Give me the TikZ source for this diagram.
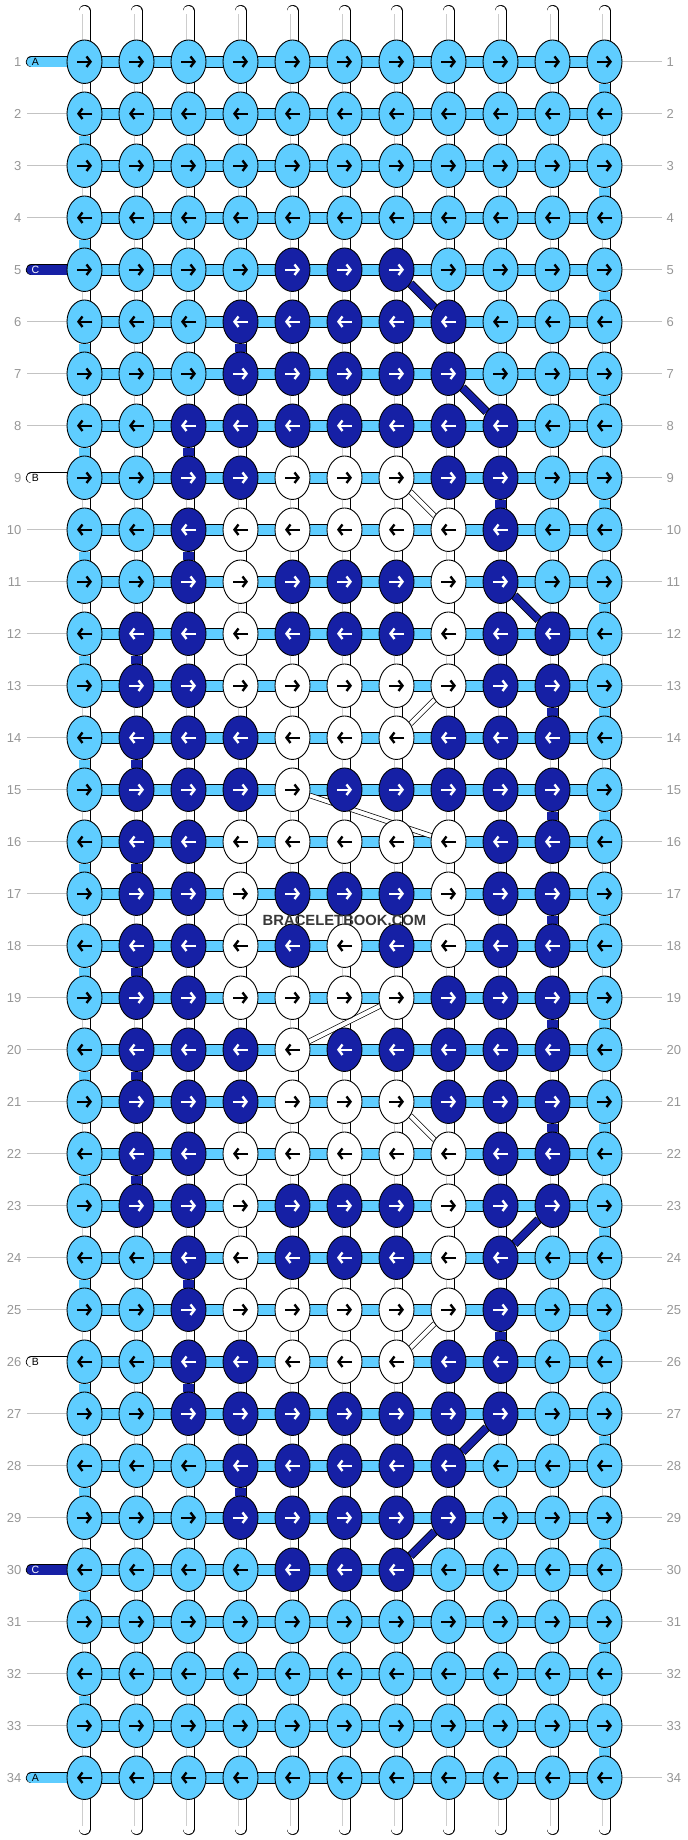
\documentclass[tikz,border=0pt]{standalone}
\usepackage{fontspec}
\setmainfont{Liberation Sans}
\usetikzlibrary{shapes.geometric,arrows.meta}
\definecolor{lblue}{RGB}{95,205,255}
\definecolor{dblue}{RGB}{22,32,165}
\definecolor{numgray}{RGB}{150,150,150}
\definecolor{linegray}{RGB}{195,195,195}
\definecolor{stripegray}{RGB}{205,205,205}
\pgfdeclarelayer{back}
\pgfsetlayers{back,main}

\begin{document}
\begin{tikzpicture}[x=1pt, y=-1pt,
	knot/.style={draw, ellipse, line width=0.9, minimum width=35, minimum height=43.5, inner sep=0pt},
	knotL/.style={knot, fill=lblue}, knotD/.style={knot, fill=dblue}, knotW/.style={knot, fill=white},
	arr/.style={line width=2.4, -{Straight Barb[length=4pt,width=10.5pt]}},
	arrL/.style={arr, black}, arrD/.style={arr, white}, arrW/.style={arr, black},
	thread/.style={line width=0.8, double distance=10.4},
	stringline/.style={thread, double=white, line cap=round},
	stripe/.style={draw=stripegray, line width=0.6, double=white, double distance=4, shorten <=3, shorten >=3},
	vfillL/.style={thread, double=lblue}, vfillD/.style={thread, double=dblue}, vfillW/.style={thread, double=white},
	hbar/.style={line width=0.8, double=lblue, double distance=10.2},
	diagD/.style={line width=0.8, double=dblue, double distance=7},
	diagW/.style={line width=0.7, double=white, double distance=4},
	pill/.style={line width=0.8, double distance=9.8, line cap=round},
	pilltext/.style={font=\fontsize{10.5}{12}\selectfont, inner sep=0pt},
	rownum/.style={text=numgray, font=\fontsize{13}{15}\selectfont, inner sep=0pt},
	guide/.style={draw=linegray, line width=1}]
\useasboundingbox (0,0) rectangle (688,1840);
% knots, row by row
\foreach \r/\row in {
	1/{L,L,L,L,L,L,L,L,L,L,L}, 2/{L,L,L,L,L,L,L,L,L,L,L}, 3/{L,L,L,L,L,L,L,L,L,L,L}, 4/{L,L,L,L,L,L,L,L,L,L,L},
	5/{L,L,L,L,D,D,D,L,L,L,L}, 6/{L,L,L,D,D,D,D,D,L,L,L}, 7/{L,L,L,D,D,D,D,D,L,L,L}, 8/{L,L,D,D,D,D,D,D,D,L,L},
	9/{L,L,D,D,W,W,W,D,D,L,L}, 10/{L,L,D,W,W,W,W,W,D,L,L}, 11/{L,L,D,W,D,D,D,W,D,L,L}, 12/{L,D,D,W,D,D,D,W,D,D,L},
	13/{L,D,D,W,W,W,W,W,D,D,L}, 14/{L,D,D,D,W,W,W,D,D,D,L}, 15/{L,D,D,D,W,D,D,D,D,D,L}, 16/{L,D,D,W,W,W,W,W,D,D,L},
	17/{L,D,D,W,D,D,D,W,D,D,L}, 18/{L,D,D,W,D,W,D,W,D,D,L}, 19/{L,D,D,W,W,W,W,D,D,D,L}, 20/{L,D,D,D,W,D,D,D,D,D,L},
	21/{L,D,D,D,W,W,W,D,D,D,L}, 22/{L,D,D,W,W,W,W,W,D,D,L}, 23/{L,D,D,W,D,D,D,W,D,D,L}, 24/{L,L,D,W,D,D,D,W,D,L,L},
	25/{L,L,D,W,W,W,W,W,D,L,L}, 26/{L,L,D,D,W,W,W,D,D,L,L}, 27/{L,L,D,D,D,D,D,D,D,L,L}, 28/{L,L,L,D,D,D,D,D,L,L,L},
	29/{L,L,L,D,D,D,D,D,L,L,L}, 30/{L,L,L,L,D,D,D,L,L,L,L}, 31/{L,L,L,L,L,L,L,L,L,L,L}, 32/{L,L,L,L,L,L,L,L,L,L,L},
	33/{L,L,L,L,L,L,L,L,L,L,L}, 34/{L,L,L,L,L,L,L,L,L,L,L}}{
	\ifodd\r\relax \def\dir{1}\else \def\dir{-1}\fi
	\foreach \k [count=\c] in \row {
		\node [knot\k] (k\r-\c) at ({84.5+52*(\c-1)},{61.7+52*(\r-1)}){};
		\draw [arr\k] (k\r-\c.center) ++({-7.5*(\dir)},0) -- ++({15*(\dir)},0);
	}
	\node [rownum, anchor=east] (ln\r) at (21.5,{61.7+52*(\r-1)}) {\r};
	\node [rownum, anchor=west] (rn\r) at (666.5,{61.7+52*(\r-1)}) {\r};
}
\node [font=\bfseries\fontsize{14.8}{16}\selectfont, text=black!78, inner sep=0pt] (mark) at (344.5,920) {BRACELETBOOK.COM};
% thread labels
\node [pilltext] (tA1) at (35.5,61.7) {A};
\node [pilltext, text=white] (tC5) at (35.5,269.7) {C};
\node [pilltext] (tB9) at (35.5,477.7) {B};
\node [pilltext] (tB26) at (35.5,1361.7) {B};
\node [pilltext, text=white] (tC30) at (35.5,1569.7) {C};
\node [pilltext] (tA34) at (35.5,1777.7) {A};
\begin{pgfonlayer}{back}
% vertical strings
\foreach \c in {1,...,11}{
	\coordinate (top\c) at ({84.5+52*(\c-1)},11);
	\coordinate (bot\c) at ({84.5+52*(\c-1)},1829);
	\draw [stringline] (top\c) -- (bot\c);
	\draw [stripe] (top\c) -- (bot\c);
}
% thread turning at the edges
\foreach \r in {1,3,...,33}{
	\pgfmathtruncatemacro\s{\r+1}
	\draw [vfillL] (k\r-11) -- (k\s-11);
}
\foreach \r in {2,4,...,32}{
	\pgfmathtruncatemacro\s{\r+1}
	\draw [vfillL] (k\r-1) -- (k\s-1);
}
\foreach \to/\from in {k6-4/k7-4, k8-3/k9-3, k9-9/k10-9, k10-3/k11-3, k12-2/k13-2, k13-10/k14-10, k14-2/k15-2,
	k15-10/k16-10, k16-2/k17-2, k17-10/k18-10, k18-2/k19-2, k19-10/k20-10, k20-2/k21-2, k21-10/k22-10,
	k22-2/k23-2, k24-3/k25-3, k25-9/k26-9, k26-3/k27-3, k28-4/k29-4}
\draw [vfillD] (\to)--(\from);
\foreach \to/\from in {k10-4/k11-4, k11-8/k12-8, k12-4/k13-4, k14-5/k15-5, k16-4/k17-4, k17-8/k18-8,
	k18-4/k19-4, k20-5/k21-5, k22-4/k23-4, k23-8/k24-8, k24-4/k25-4}
\draw [vfillW] (\to)--(\from);
% rows
\foreach \r in {1,...,34}{
	\foreach \c in {1,...,10}{
		\pgfmathtruncatemacro\d{\c+1}
		\draw [hbar] (k\r-\c) -- (k\r-\d);
	}
	\draw [guide, shorten <=4.5] (rn\r.west) -- (k\r-11);
}
\foreach \r in {2,3,4,6,7,8,10,11,...,25,27,28,29,31,32,33}
\draw [guide, shorten <=5.5] (ln\r.east) -- (k\r-1);
% diagonal moves
\foreach \to/\from in {k5-7/k6-8, k7-8/k8-9, k11-9/k12-10, k23-10/k24-9, k27-9/k28-8, k29-8/k30-7}
\draw [diagD] (\to)--(\from);
\foreach \to/\from in {k9-7/k10-8, k13-8/k14-7, k15-5/k16-8, k19-7/k20-5, k21-7/k22-8, k25-8/k26-7}
\draw [diagW] (\to)--(\from);
% thread ends
\coordinate (inA1) at (31.5,61.7);
\coordinate (inC5) at (31.5,269.7);
\coordinate (inB9) at (31.5,477.7);
\coordinate (inB26) at (31.5,1361.7);
\coordinate (inC30) at (31.5,1569.7);
\coordinate (inA34) at (31.5,1777.7);
\draw [pill, double=lblue] (inA1) -- (k1-1);
\draw [pill, double=dblue] (inC5) -- (k5-1);
\draw [pill, double=white] (inB9) -- (k9-1);
\draw [pill, double=white] (inB26) -- (k26-1);
\draw [pill, double=dblue] (inC30) -- (k30-1);
\draw [pill, double=lblue] (inA34) -- (k34-1);
\end{pgfonlayer}
\end{tikzpicture}
\end{document}
